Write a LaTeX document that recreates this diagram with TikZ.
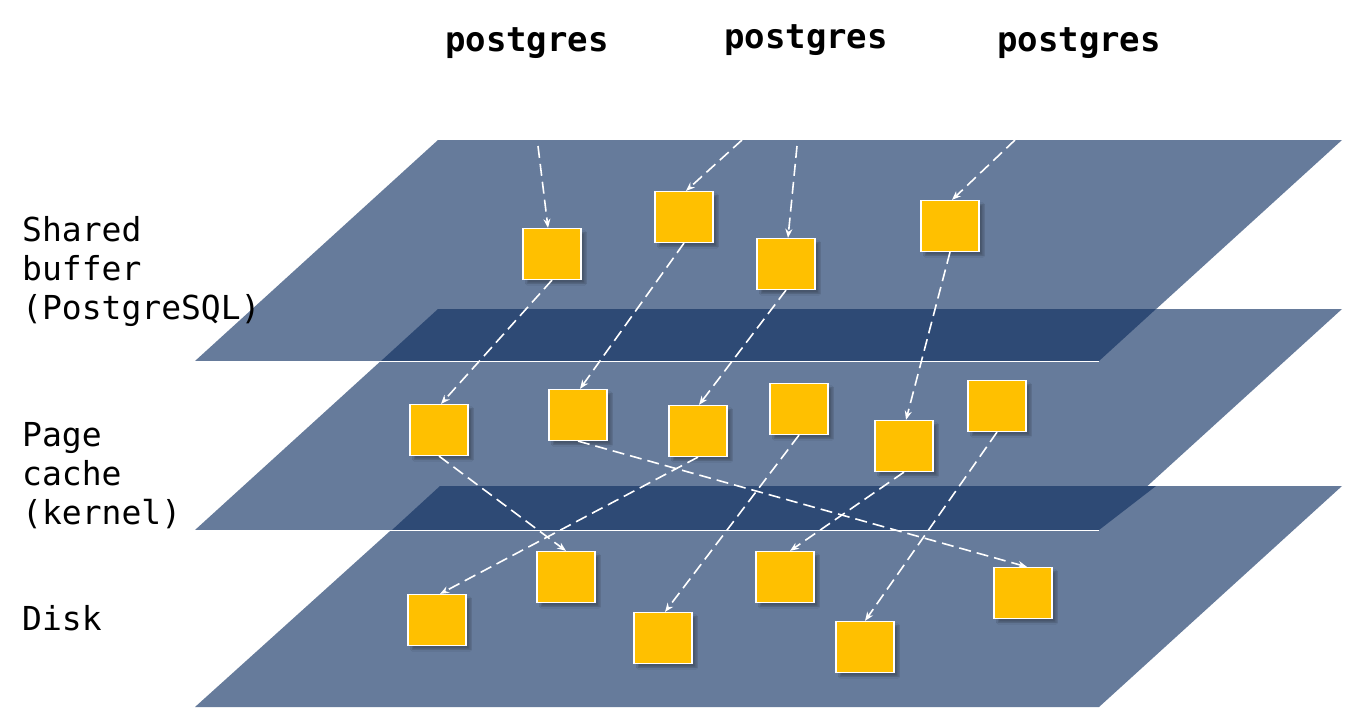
\documentclass[tikz,border=0pt]{standalone}
\usepackage{fontspec}
\setmonofont{DejaVu Sans Mono}
\usetikzlibrary{arrows.meta,shadows.blur}
\definecolor{plane}{HTML}{667B9B}
\definecolor{dark}{HTML}{2E4A75}
\definecolor{box}{HTML}{FFC000}
\begin{document}
\begin{tikzpicture}[x=1pt,y=-1pt,
  blk/.style={draw=white,line width=1.2pt,fill=box,minimum width=58pt,minimum height=51pt,inner sep=0pt,
    blur shadow={shadow xshift=4pt,shadow yshift=-4pt,shadow blur steps=5,shadow opacity=30}},
  arr/.style={draw=white,line width=1.6pt,dash pattern=on 12pt off 6pt,-{Stealth[length=9pt,width=7pt]}},
  lbl/.style={font=\ttfamily\fontsize{33}{39}\selectfont,align=left,anchor=north west,inner sep=0pt},
  pg/.style={font=\ttfamily\bfseries\fontsize{34}{40}\selectfont,inner sep=0pt}]
\useasboundingbox (0,0) rectangle (1347,710);
\fill[white] (0,0) rectangle (1347,710);
% planes
\fill[plane] (440,486) -- (1342,486) -- (1099,707) -- (195,707) -- cycle;
\fill[plane] (438,309) -- (1342,309) -- (1099,530) -- (195,530) -- cycle;
\fill[dark] (440,486) -- (1156,486) -- (1099,530) -- (392,530) -- cycle;
\draw[white,line width=1pt] (195,530) -- (1099,530);
\fill[plane] (438,140) -- (1342,140) -- (1099,361) -- (195,361) -- cycle;
\fill[dark] (438,309) -- (1156,309) -- (1099,361) -- (381,361) -- cycle;
\draw[white,line width=1pt] (195,361) -- (1099,361);
% labels
\node[pg] (p1) at (527,43) {postgres};
\node[pg] (p2) at (806,40) {postgres};
\node[pg] (p3) at (1079,43) {postgres};
\node[lbl] (l1) at (22,216) {Shared\\buffer\\(PostgreSQL)};
\node[lbl] (l2) at (22,422) {Page\\cache\\(kernel)};
\node[lbl] (l3) at (22,605) {Disk};
% boxes
\node[blk] (A) at (552,254) {};
\node[blk] (B) at (684,217) {};
\node[blk] (C) at (786,264) {};
\node[blk] (D) at (950,226) {};
\node[blk] (E) at (439,430) {};
\node[blk] (F) at (578,415) {};
\node[blk] (G) at (698,431) {};
\node[blk] (H) at (799,409) {};
\node[blk] (I) at (904,446) {};
\node[blk] (J) at (997,406) {};
\node[blk] (K) at (566,577) {};
\node[blk] (L) at (437,620) {};
\node[blk] (M) at (663,638) {};
\node[blk] (N) at (785,577) {};
\node[blk] (O) at (865,647) {};
\node[blk] (P) at (1023,593) {};
\coordinate (s1) at (538,146);
\coordinate (s2) at (742,140);
\coordinate (s3) at (797,146);
\coordinate (s4) at (1015,140);
% arrows
\draw[arr] (s1) -- ([xshift=-4pt]A.north);
\draw[arr] (s2) -- ([xshift=2pt]B.north);
\draw[arr] (s3) -- ([xshift=2pt]C.north);
\draw[arr] (s4) -- ([xshift=2pt]D.north);
\draw[arr] (A.south) -- ([xshift=2pt]E.north);
\draw[arr] (B.south) -- ([xshift=2pt]F.north);
\draw[arr] (C.south) -- ([xshift=1pt]G.north);
\draw[arr] (D.south) -- ([xshift=2pt]I.north);
\draw[arr] (E.south) -- (K.north);
\draw[arr] (F.south) -- ([xshift=4pt]P.north);
\draw[arr] (G.south) -- ([xshift=3pt]L.north);
\draw[arr] (H.south) -- ([xshift=2pt]M.north);
\draw[arr] (I.south) -- ([xshift=5pt]N.north);
\draw[arr] (J.south) -- (O.north);
\end{tikzpicture}
\end{document}
